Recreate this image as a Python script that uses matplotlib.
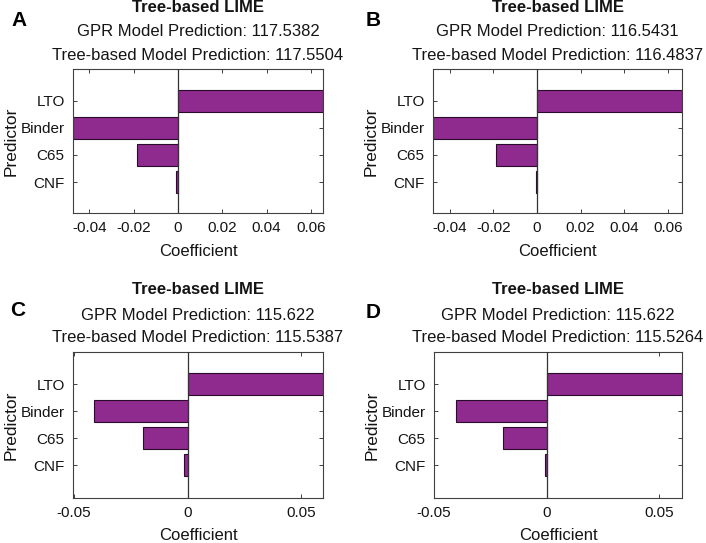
import matplotlib
matplotlib.use('Agg')
import matplotlib.pyplot as plt

plt.rcParams['font.family'] = ['Liberation Sans', 'DejaVu Sans']

predictors = ['CNF', 'C65', 'Binder', 'LTO']   # bottom -> top
panel_letters = ['A', 'B', 'C', 'D']
gpr_pred = ['117.5382', '116.5431', '115.622', '115.622']
tree_pred = ['117.5504', '116.4837', '115.5387', '115.5264']

coef_a = [-0.0010, -0.0186, -0.0474, 0.0655]
coef_b = [-0.0005, -0.0187, -0.0477, 0.0665]
coef_c = [-0.0016, -0.0196, -0.0409, 0.0595]
coef_d = [-0.0006, -0.0194, -0.0404, 0.0600]

xlims = [(-0.0474, 0.0655), (-0.0477, 0.0665), (-0.0503, 0.0595), (-0.0497, 0.0600)]
ticks_top = [-0.04, -0.02, 0, 0.02, 0.04, 0.06]
ticklabels_top = ['-0.04', '-0.02', '0', '0.02', '0.04', '0.06']
ticks_bot = [-0.05, 0, 0.05]
ticklabels_bot = ['-0.05', '0', '0.05']

W, H = 706, 543
bar_color = '#8f2a8f'
edge_color = '#2b0b2b'
axis_color = '#404040'
text_color = '#141414'

# axes boxes in pixels: left, top, right, bottom
boxes = [(73, 69, 323, 213), (433, 69, 682, 213),
         (73, 352, 323, 498), (434, 352, 682, 498)]
letter_pos = [(19, 21), (373, 21), (18, 310), (373, 312)]

fig = plt.figure(figsize=(W / 100, H / 100), dpi=100)

all_coefs = [coef_a, coef_b, coef_c, coef_d]
for i, coefs in enumerate(all_coefs):
    l, t, r, b = boxes[i]
    ax = fig.add_axes([l / W, 1 - b / H, (r - l) / W, (b - t) / H])
    ypos = list(range(1, len(predictors) + 1))
    ax.barh(ypos, coefs, height=0.8, color=bar_color, edgecolor=edge_color,
            linewidth=0.8, zorder=2)
    ax.axvline(0, color='#333333', linewidth=0.9, zorder=3)
    ax.set_xlim(*xlims[i])
    if i < 2:
        ax.set_ylim(-0.14, 5.17)
        ax.set_xticks(ticks_top)
        ax.set_xticklabels(ticklabels_top)
    else:
        ax.set_ylim(-0.21, 5.19)
        ax.set_xticks(ticks_bot)
        ax.set_xticklabels(ticklabels_bot)
    ax.set_yticks(ypos)
    ax.set_yticklabels(predictors)
    ax.tick_params(direction='in', length=3, width=0.7, colors=axis_color,
                   labelcolor=text_color, labelsize=11, top=True, right=True,
                   pad=6)
    for sp in ax.spines.values():
        sp.set_color(axis_color)
        sp.set_linewidth(0.8)
    ax.set_xlabel('Coefficient', fontsize=12, color=text_color, va='center')
    ax.set_ylabel('Predictor', fontsize=12.5, color=text_color, va='center')
    ax.xaxis.set_label_coords(0.5, -38 / (b - t))
    ax.yaxis.set_label_coords(-62 / (r - l), 0.5)

    ax.annotate('Tree-based LIME', xy=(0.5, 1), xycoords='axes fraction',
                xytext=(0, 62), textcoords='offset pixels', ha='center',
                va='center', fontsize=12, fontweight='bold', color=text_color)
    ax.annotate('GPR Model Prediction: ' + gpr_pred[i], xy=(0.5, 1),
                xycoords='axes fraction', xytext=(0, 37),
                textcoords='offset pixels', ha='center', va='center',
                fontsize=12, color=text_color)
    ax.annotate('Tree-based Model Prediction: ' + tree_pred[i], xy=(0.5, 1),
                xycoords='axes fraction', xytext=(0, 14),
                textcoords='offset pixels', ha='center', va='center',
                fontsize=12, color=text_color)

    lx, ly = letter_pos[i]
    fig.text(lx / W, 1 - ly / H, panel_letters[i], ha='center', va='center',
             fontsize=15, fontweight='bold', color='black')

fig.savefig('out.png', dpi=100)
